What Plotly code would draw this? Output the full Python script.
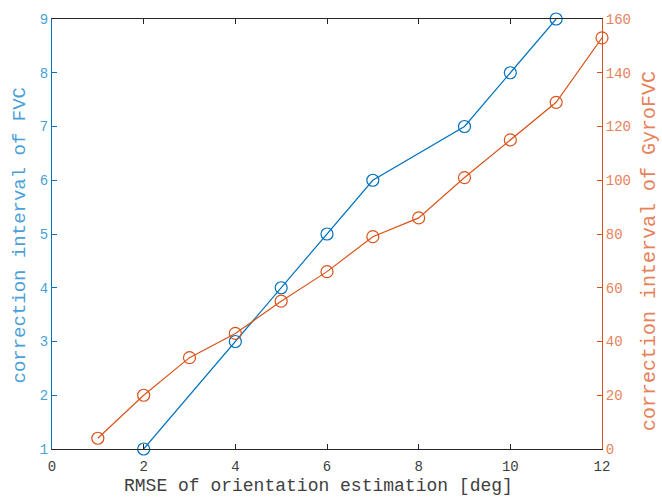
import plotly.graph_objects as go

fvc_x = [2, 4, 5, 6, 7, 9, 10, 11]
fvc_y = [1, 3, 4, 5, 6, 7, 8, 9]
gyro_x = [1, 2, 3, 4, 5, 6, 7, 8, 9, 10, 11, 12]
gyro_y = [4, 20, 34, 43, 55, 66, 79, 86, 101, 115, 129, 153]

x_title = "RMSE of orientation estimation [deg]"
y_title = "correction interval of FVC"
y2_title = "correction interval of GyroFVC"

blue = "#0072BD"
orange = "#D95319"
blue_txt = "#4A9FD8"
orange_txt = "#E8825A"
font = "Liberation Mono, Courier New, monospace"

fig = go.Figure()
fig.add_trace(go.Scatter(x=fvc_x, y=fvc_y, mode="lines+markers",
                         line=dict(color=blue, width=1.2),
                         marker=dict(symbol="circle-open", size=12, color=blue, line=dict(width=1.2)),
                         yaxis="y", showlegend=False, cliponaxis=False))
fig.add_trace(go.Scatter(x=gyro_x, y=gyro_y, mode="lines+markers",
                         line=dict(color=orange, width=1.2),
                         marker=dict(symbol="circle-open", size=12, color=orange, line=dict(width=1.2)),
                         yaxis="y2", showlegend=False, cliponaxis=False))

fig.update_layout(
    width=662, height=498,
    margin=dict(l=52, r=60, t=17, b=49),
    plot_bgcolor="white", paper_bgcolor="white",
    font=dict(family=font, size=14),
    xaxis=dict(range=[0, 12], tickvals=[0, 2, 4, 6, 8, 10, 12], ticks="inside", ticklen=5,
               tickcolor="#262626", linecolor="#262626", linewidth=1, mirror="ticks",
               showgrid=False, zeroline=False, ticklabelstandoff=4,
               tickfont=dict(color="#404040", size=14, family=font)),
    yaxis=dict(range=[1, 9], tickvals=list(range(1, 10)), ticks="inside", ticklen=5,
               tickcolor=blue, linecolor=blue, linewidth=1, showgrid=False, zeroline=False,
               tickfont=dict(color=blue_txt, size=14, family=font)),
    yaxis2=dict(range=[0, 160], tickvals=list(range(0, 161, 20)), ticks="inside", ticklen=5,
                tickcolor=orange, linecolor=orange, linewidth=1, overlaying="y", side="right",
                showgrid=False, zeroline=False, anchor="x",
                tickfont=dict(color=orange_txt, size=14, family=font)),
    annotations=[
        dict(text=x_title, xref="paper", yref="paper", x=0.4845, y=-0.0856,
             xanchor="center", yanchor="middle", showarrow=False,
             font=dict(size=18, color="#404040", family=font)),
        dict(text=y_title, xref="paper", yref="paper", x=-0.0582, y=0.4965, textangle=-90,
             xanchor="center", yanchor="middle", showarrow=False,
             font=dict(size=19, color=blue_txt, family=font)),
        dict(text=y2_title, xref="paper", yref="paper", x=1.0873, y=0.4606, textangle=-90,
             xanchor="center", yanchor="middle", showarrow=False, borderpad=0,
             font=dict(size=20, color=orange_txt, family=font)),
    ],
)

fig.write_html("out.html")
